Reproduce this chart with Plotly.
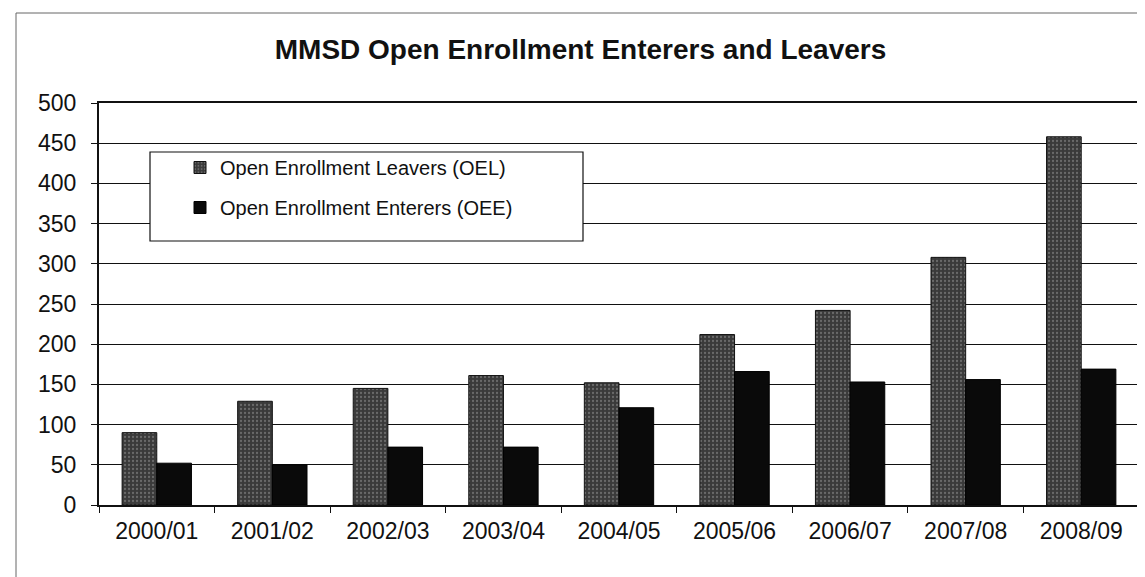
import plotly.graph_objects as go

categories = ["2000/01", "2001/02", "2002/03", "2003/04", "2004/05",
              "2005/06", "2006/07", "2007/08", "2008/09"]
oel = [90, 129, 145, 161, 152, 212, 242, 308, 458]
oee = [52, 50, 72, 72, 121, 166, 153, 156, 169]

fig = go.Figure()
fig.add_trace(go.Bar(
    x=categories, y=oel, name="Open Enrollment Leavers (OEL)",
    marker=dict(color="#4a4a4a", line=dict(color="#111", width=1),
                pattern=dict(shape=".", fgcolor="#9a9a9a", bgcolor="#3a3a3a",
                             size=4, solidity=0.25)),
    legendgroup="a"))
fig.add_trace(go.Bar(
    x=categories, y=oee, name="Open Enrollment Enterers (OEE)",
    marker=dict(color="#0a0a0a", line=dict(color="#000", width=1)),
    legendgroup="b"))

L, R, T, B = 91, 14, 95, 80
PW, PH = 1145 - L - R, 577 - T - B


def px_x(p):
    return (p - L) / PW


def px_y(p):
    return (577 - B - p) / PH


fig.update_layout(
    width=1145, height=577,
    paper_bgcolor="white", plot_bgcolor="white",
    margin=dict(l=L, r=R, t=T, b=B),
    barmode="group", bargap=0.4, bargroupgap=0,
    font=dict(family="Liberation Sans, Arial", color="#111"),
    title=dict(text="<b>MMSD Open Enrollment Enterers and Leavers</b>",
               x=0.5, xanchor="center", y=1 - 41 / 577, yanchor="middle",
               yref="container", font=dict(size=28, color="#111")),
    legend=dict(x=px_x(172), y=px_y(140), xanchor="left", yanchor="top",
                bgcolor="rgba(0,0,0,0)", borderwidth=0,
                font=dict(size=20), tracegroupgap=11,
                itemwidth=30),
    showlegend=True,
    shapes=[
        dict(type="rect", xref="paper", yref="paper",
             x0=px_x(142), x1=px_x(575), y0=px_y(233), y1=px_y(144),
             line=dict(color="#111", width=1.2), fillcolor="white",
             layer="above"),
        dict(type="rect", xref="paper", yref="paper",
             x0=px_x(8), x1=px_x(1160), y0=px_y(574), y1=px_y(5),
             line=dict(color="#666", width=1), layer="below"),
    ],
)
fig.update_xaxes(
    showline=True, linecolor="#111", linewidth=2, mirror=True,
    ticks="outside", tickson="boundaries", ticklen=6, tickcolor="#111",
    ticklabelstandoff=4,
    tickfont=dict(size=23, color="#111"), showgrid=False)
fig.update_yaxes(
    range=[0, 500], dtick=50, showline=True, linecolor="#111", linewidth=2,
    mirror=True, showgrid=True, gridcolor="#111", gridwidth=1,
    ticks="outside", ticklen=6, tickcolor="#111", ticklabelstandoff=10,
    tickfont=dict(size=23, color="#111"), zeroline=False)

fig.write_html("out.html")
